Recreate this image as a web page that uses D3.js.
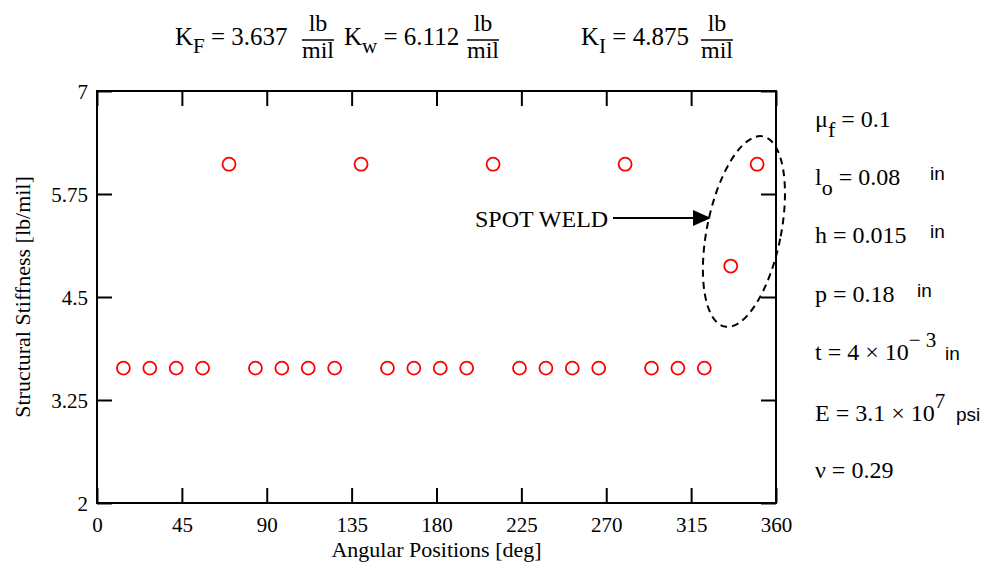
<!DOCTYPE html>
<html>
<head>
<meta charset="utf-8">
<script src="https://cdn.jsdelivr.net/npm/d3@7"></script>
<style>
  body { margin: 0; background: #fff; }
  text { font-family: "Liberation Serif", "Times New Roman", serif; fill: #000; }
  text.sans { font-family: "Liberation Sans", Arial, sans-serif; }
</style>
</head>
<body>
<div id="chart"></div>
<script>
// data
const angles = [14, 28, 42, 56, 70, 84, 98, 112, 126, 140, 154, 168, 182,
                196, 210, 224, 238, 252, 266, 280, 294, 308, 322, 336, 350];
const stiffness = [3.637, 3.637, 3.637, 3.637, 6.112, 3.637, 3.637, 3.637, 3.637, 6.112,
                   3.637, 3.637, 3.637, 3.637, 6.112, 3.637, 3.637, 3.637, 3.637, 6.112,
                   3.637, 3.637, 3.637, 4.875, 6.112];
const xTicks = [0, 45, 90, 135, 180, 225, 270, 315, 360];
const yTicks = [2, 3.25, 4.5, 5.75, 7];
const yTickLabels = ["2", "3.25", "4.5", "5.75", "7"];

// constants printed around the plot
const kNames = ["F", "w", "I"];
const kValues = ["3.637", "6.112", "4.875"];
const paramNames = ["μ", "l", "h", "p", "t", "E", "ν"];
const paramSubs = ["f", "o", "", "", "", "", ""];
const paramValues = ["0.1", "0.08", "0.015", "0.18", "4 × 10", "3.1 × 10", "0.29"];
const paramSups = ["", "", "", "", "− 3", "7", ""];
const paramUnits = ["", "in", "in", "in", "in", "psi", ""];

const width = 993;
const height = 571;
const margins = { top: 91, left: 97, right: 217, bottom: 68 };
const serif = "Liberation Serif, Times New Roman, serif";

const svg = d3.select("#chart").append("svg")
    .attr("width", width)
    .attr("height", height);

const x = d3.scaleLinear().domain([0, 360]).range([margins.left, width - margins.right]);
const y = d3.scaleLinear().domain([2, 7]).range([height - margins.bottom, margins.top]);

function addText(parent, px, py, size, str, anchor = "start") {
    return parent.append("text")
        .attr("x", px).attr("y", py)
        .attr("font-family", serif)
        .attr("font-size", size)
        .attr("text-anchor", anchor)
        .text(str);
}

// axes, ticks inward on all four sides
const tickLen = 15;
const bottom = svg.append("g")
    .attr("transform", `translate(0,${y(2)})`)
    .call(d3.axisBottom(x).tickValues(xTicks).tickSize(-tickLen).tickPadding(0).tickFormat(d3.format("d")));
const left = svg.append("g")
    .attr("transform", `translate(${x(0)},0)`)
    .call(d3.axisLeft(y).tickValues(yTicks).tickSize(-tickLen).tickPadding(0)
        .tickFormat((d, i) => yTickLabels[i]));
svg.append("g")
    .attr("transform", `translate(0,${y(7)})`)
    .call(d3.axisTop(x).tickValues(xTicks).tickSize(-tickLen).tickFormat(""));
svg.append("g")
    .attr("transform", `translate(${x(360)},0)`)
    .call(d3.axisRight(y).tickValues(yTicks).tickSize(-tickLen).tickFormat(""));

svg.selectAll(".domain").remove();
svg.selectAll(".tick line").attr("stroke", "#000").attr("stroke-width", 2);

bottom.selectAll(".tick text")
    .attr("font-family", serif)
    .attr("font-size", 21)
    .attr("fill", "#000")
    .attr("y", 29).attr("dy", null);
left.selectAll(".tick text")
    .attr("font-family", serif)
    .attr("font-size", 21)
    .attr("fill", "#000")
    .attr("x", -9).attr("dy", "0.36em");

// frame
svg.append("rect")
    .attr("x", x(0)).attr("y", y(7))
    .attr("width", x(360) - x(0)).attr("height", y(2) - y(7))
    .attr("fill", "none").attr("stroke", "#000").attr("stroke-width", 2);

// axis titles
addText(svg, (x(0) + x(360)) / 2, 557, 22, "Angular Positions [deg]", "middle");
svg.append("text")
    .attr("transform", `translate(30,${(y(2) + y(7)) / 2}) rotate(-90)`)
    .attr("font-family", serif)
    .attr("font-size", 22)
    .attr("text-anchor", "middle")
    .text("Structural Stiffness [lb/mil]");

// points
svg.append("g").selectAll("circle")
    .data(angles.map((a, i) => [a, stiffness[i]]))
    .join("circle")
    .attr("cx", d => x(d[0]))
    .attr("cy", d => y(d[1]))
    .attr("r", 6.5)
    .attr("fill", "none")
    .attr("stroke", "#ff0000")
    .attr("stroke-width", 1.8);

// spot weld annotation
svg.append("ellipse")
    .attr("transform", `translate(${x(343)},${y(5.295)}) rotate(11.4)`)
    .attr("rx", 37).attr("ry", 97)
    .attr("fill", "none")
    .attr("stroke", "#000")
    .attr("stroke-width", 2)
    .attr("stroke-dasharray", "7,5");

const arrowY = y(5.459);
svg.append("line")
    .attr("x1", x(273.6)).attr("x2", x(317))
    .attr("y1", arrowY).attr("y2", arrowY)
    .attr("stroke", "#000").attr("stroke-width", 2);
svg.append("path")
    .attr("d", `M${x(325.5)},${arrowY} L${x(316)},${arrowY - 8} L${x(316)},${arrowY + 8} Z`)
    .attr("fill", "#000");
addText(svg, x(271), y(5.35), 24, "SPOT WELD", "end");

// K formulas along the top
const kX = [175, 344, 581];
const fracX = [318, 483, 717];
kNames.forEach((name, i) => {
    const t = addText(svg, kX[i], 45, 25, "");
    t.append("tspan").text("K");
    t.append("tspan").attr("font-size", 21).attr("dy", 8).text(name);
    t.append("tspan").attr("dy", -8).text(" = " + kValues[i]);

    addText(svg, fracX[i], 31, 24, "lb", "middle");
    addText(svg, fracX[i], 58, 24, "mil", "middle");
    svg.append("line")
        .attr("x1", fracX[i] - 16).attr("x2", fracX[i] + 16)
        .attr("y1", 40).attr("y2", 40)
        .attr("stroke", "#000").attr("stroke-width", 1.5);
});

// parameter list on the right
const rowY = [127, 185, 243, 302, 360, 421, 478];
const unitX = [0, 930, 930, 917, 945, 956, 0];
paramNames.forEach((name, i) => {
    const t = addText(svg, 815, rowY[i], 24, "");
    t.append("tspan").text(name);
    if (paramSubs[i]) {
        t.append("tspan").attr("font-size", 22).attr("dy", 10).text(paramSubs[i]);
        t.append("tspan").attr("dy", -10).text(" = " + paramValues[i]);
    } else {
        t.append("tspan").text(" = " + paramValues[i]);
    }
    if (paramSups[i]) {
        t.append("tspan").attr("font-size", 21).attr("dy", -13).text(paramSups[i]);
    }
    if (paramUnits[i]) {
        svg.append("text")
            .attr("class", "sans")
            .attr("x", unitX[i])
            .attr("y", rowY[i] - (paramSups[i] ? 0 : 5))
            .attr("font-family", "Liberation Sans, Arial, sans-serif")
            .attr("font-size", 19)
            .text(paramUnits[i]);
    }
});
</script>
</body>
</html>
